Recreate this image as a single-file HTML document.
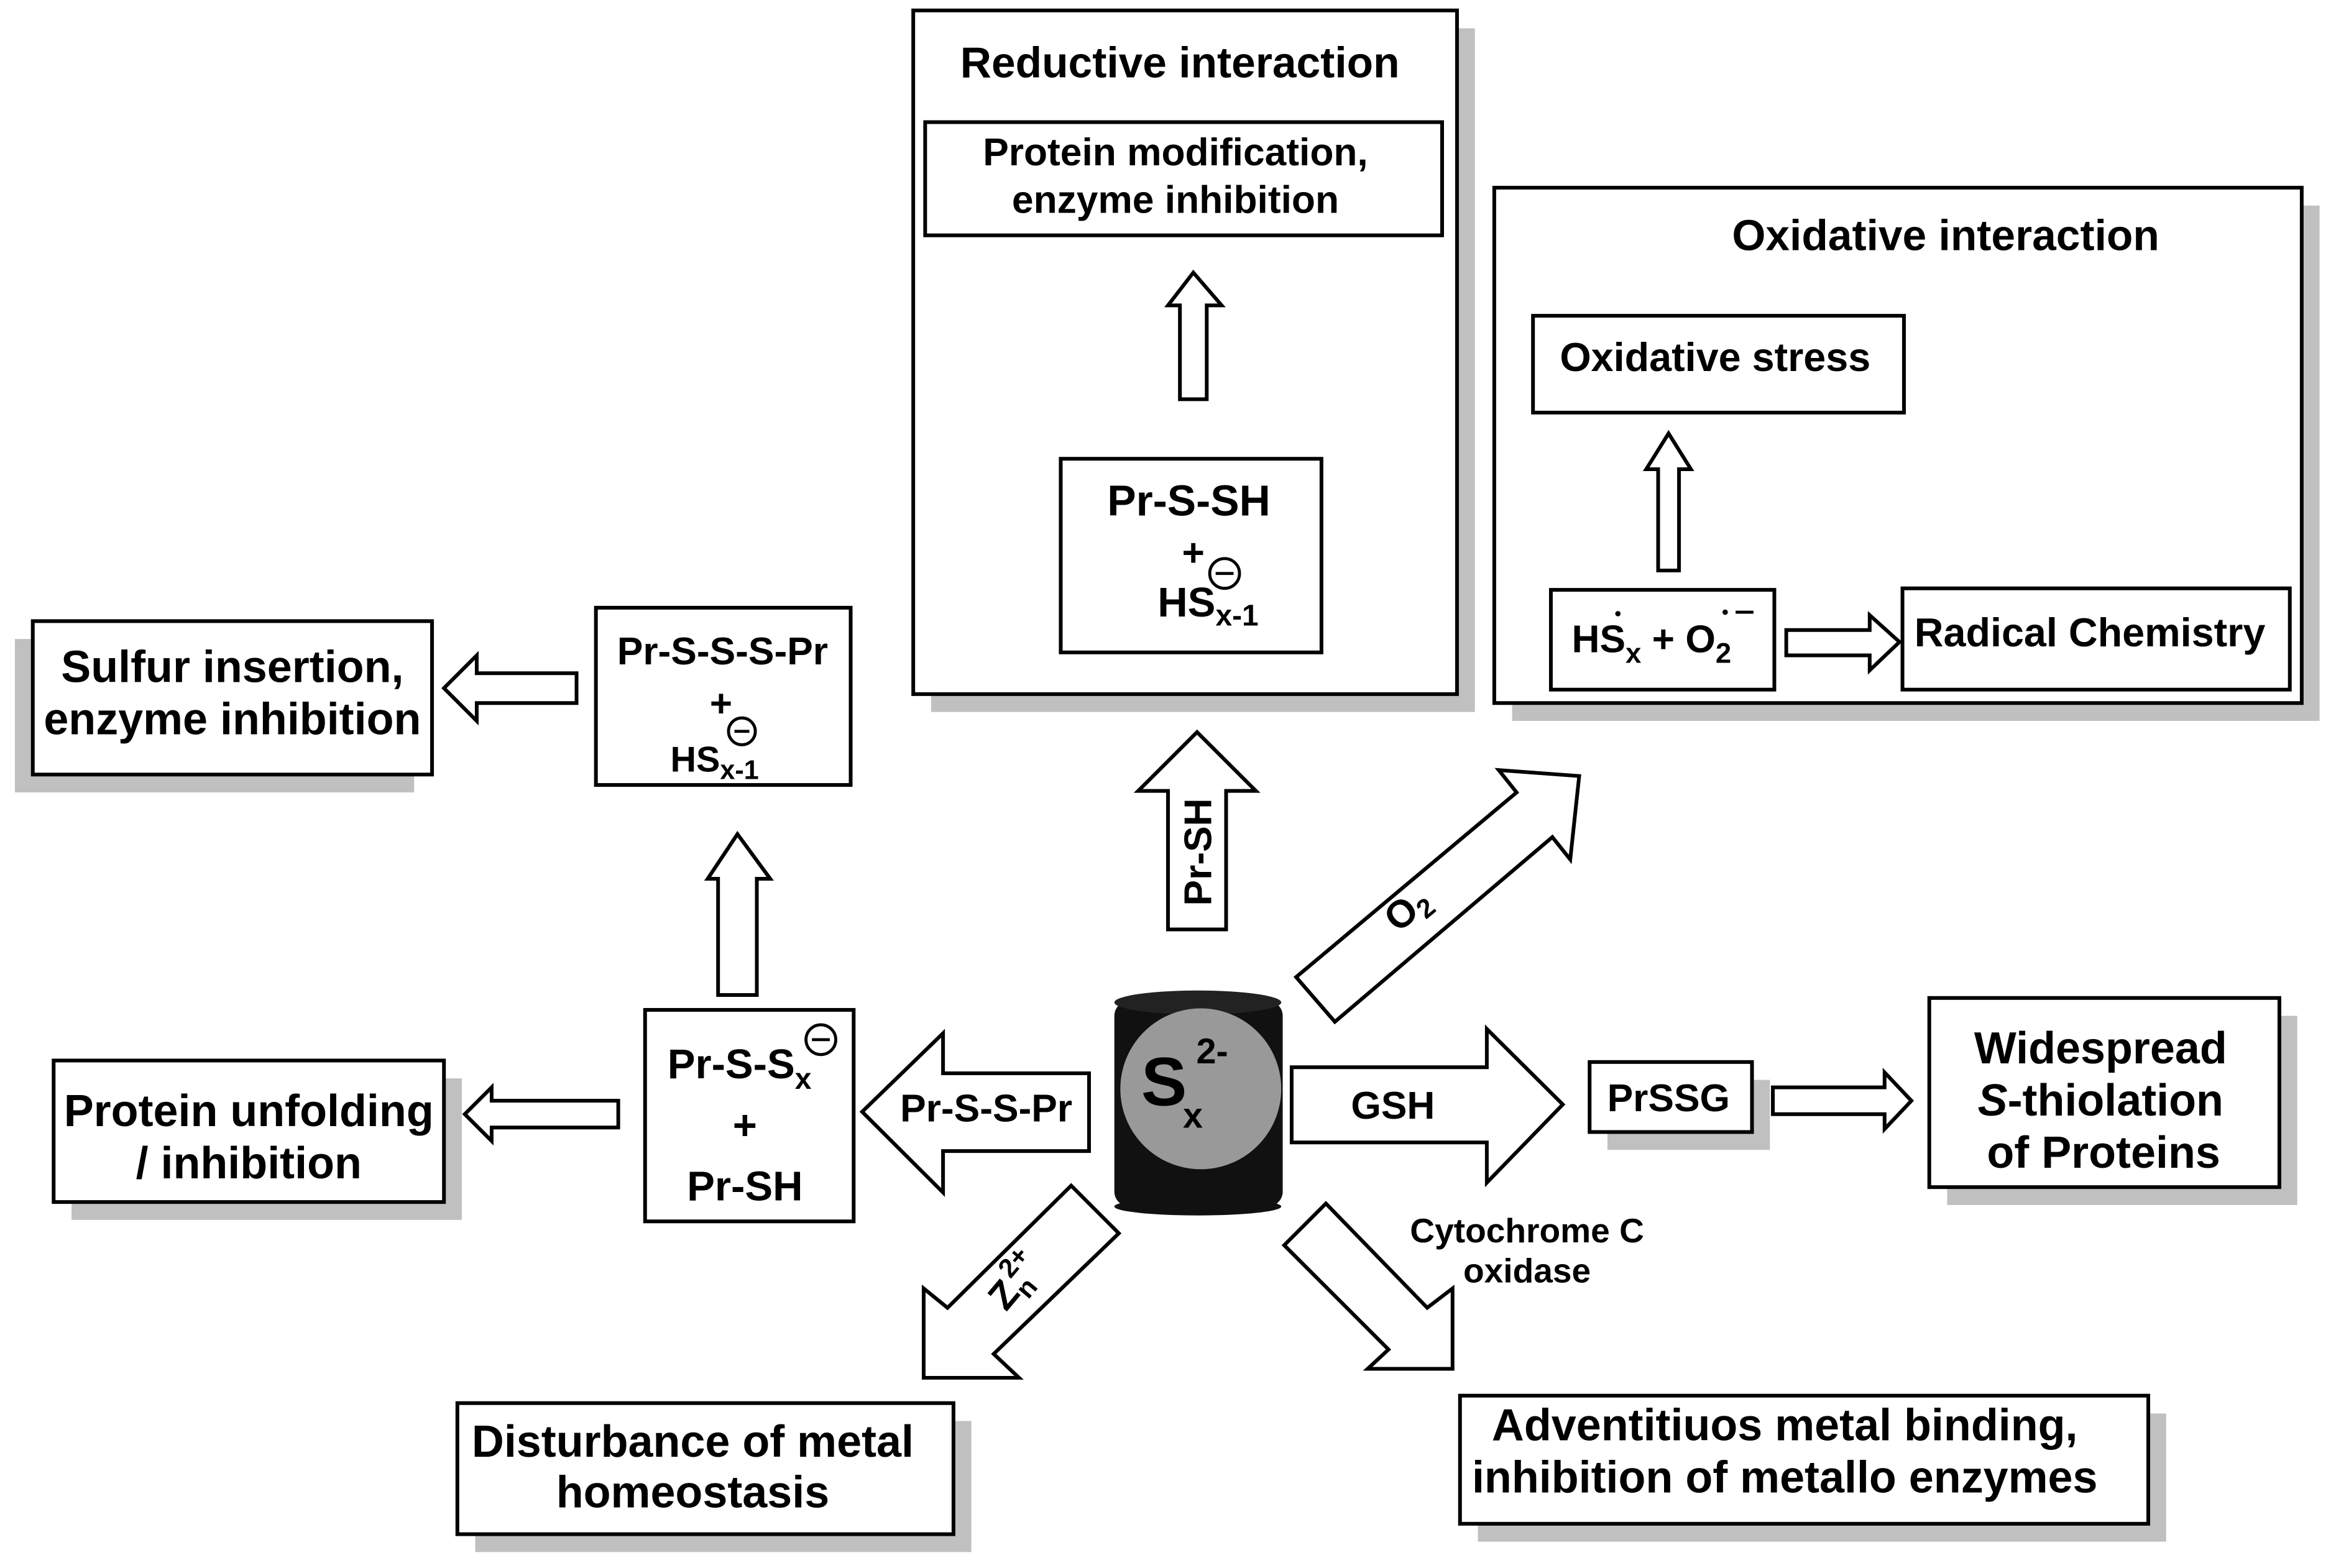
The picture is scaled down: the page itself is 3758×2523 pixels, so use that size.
<!DOCTYPE html>
<html><head><meta charset="utf-8"><style>
html,body{margin:0;padding:0;background:#fff;}
svg{display:block;}
text{font-family:"Liberation Sans",Arial,sans-serif;font-weight:bold;fill:#000;}
</style></head><body>
<svg width="3758" height="2523" viewBox="0 0 1568 1052.7" xmlns="http://www.w3.org/2000/svg">
<rect width="1568" height="1053" fill="#fff"/>
<g fill="#c0c0c0">
<rect x="625" y="19" width="365" height="459"/>
<rect x="1015" y="138" width="542" height="346"/>
<rect x="10" y="429" width="268" height="103"/>
<rect x="48" y="724" width="262" height="95"/>
<rect x="1079" y="725" width="109" height="47"/>
<rect x="1307" y="682" width="235" height="127"/>
<rect x="319" y="954" width="333" height="88"/>
<rect x="992" y="949" width="462" height="86"/>
</g>
<g fill="#fff" stroke="#000" stroke-width="2.5">
<rect x="613" y="7" width="365" height="459"/>
<rect x="621" y="82" width="347" height="76"/>
<rect x="712" y="308" width="175" height="130"/>
<rect x="1003" y="126" width="542" height="346"/>
<rect x="1029" y="212" width="249" height="65"/>
<rect x="1041" y="396" width="150" height="67"/>
<rect x="1277" y="395" width="260" height="68"/>
<rect x="22" y="417" width="268" height="103"/>
<rect x="400" y="408" width="171" height="119"/>
<rect x="36" y="712" width="262" height="95"/>
<rect x="433" y="678" width="140" height="142"/>
<rect x="1067" y="713" width="109" height="47"/>
<rect x="1295" y="670" width="235" height="127"/>
<rect x="307" y="942" width="333" height="88"/>
<rect x="980" y="937" width="462" height="86"/>
<polygon points="792,268 810,268 810,205 820,205 801,183 784,205 792,205"/>
<polygon points="1113,383 1127,383 1127,315 1135,315 1120,291 1105,315 1113,315"/>
<polygon points="1199,423 1255,423 1255,413 1275,431 1255,450 1255,440 1199,440"/>
<polygon points="387,452 320,452 320,440 298,462 320,484 320,472 387,472"/>
<polygon points="482,668 508,668 508,590 517,590 495,560 475,590 482,590"/>
<polygon points="415,739 330,739 330,730 312,748 330,766 330,757 415,757"/>
<polygon points="1190,730 1265,730 1265,720 1283,739 1265,758 1265,748 1190,748"/>
<polygon points="784,624 823,624 823,531 843,531 803.5,491.5 764,531 784,531"/>
<polygon points="731,720.6 633,720.6 633,693.7 578.7,746.4 633,800.6 633,772.8 731,772.8"/>
<polygon points="867,716.5 998,716.5 998,690.8 1049,741.5 998,794 998,767 867,767"/>
<polygon points="870,656 1018,532 1006,517 1060,521 1054,577 1042,562 896,686"/>
<polygon points="719,796 751,828 667,909 684,925 620,925 620,865 636,878"/>
<polygon points="890,808 862,836 932,906 918,919 975,919 975,865 958,878"/>
</g>
<rect x="748" y="672" width="113" height="138" rx="10" fill="#111"/>
<ellipse cx="804" cy="673" rx="56" ry="8" fill="#222"/>
<ellipse cx="804" cy="810" rx="56" ry="6" fill="#111"/>
<circle cx="806" cy="731" r="54" fill="#999"/>
<text x="766" y="742" font-size="46" fill="#222">S</text>
<text x="794" y="757" font-size="24" fill="#222">x</text>
<text x="803" y="714" font-size="24" fill="#222">2-</text>

<g font-size="29" text-anchor="middle">
<text x="792" y="52">Reductive interaction</text>
<text x="1306" y="168">Oxidative interaction</text>
</g>
<g font-size="26" text-anchor="middle">
<text x="789" y="111">Protein modification,</text>
<text x="789" y="143">enzyme inhibition</text>
<text x="798" y="346" font-size="29">Pr-S-SH</text>
<text x="801" y="380">+</text>
<text x="485" y="446" font-size="26">Pr-S-S-S-Pr</text>
<text x="484" y="481">+</text>
<text x="1410" y="714" font-size="30">Widespread</text>
<text x="1410" y="749" font-size="30"><tspan font-style="italic">S</tspan>-thiolation</text>
<text x="1412" y="784" font-size="30">of Proteins</text>
<text x="156" y="458" font-size="30">Sulfur insertion,</text>
<text x="156" y="493" font-size="30">enzyme inhibition</text>
<text x="167" y="756" font-size="30">Protein unfolding</text>
<text x="167" y="791" font-size="30">/ inhibition</text>
<text x="465" y="978" font-size="30">Disturbance of metal</text>
<text x="465" y="1012" font-size="30">homeostasis</text>
<text x="1198" y="967" font-size="30">Adventitiuos metal binding,</text>
<text x="1198" y="1002" font-size="30">inhibition of metallo enzymes</text>
<text x="500" y="765" font-size="28">+</text>
<text x="500" y="806" font-size="28">Pr-SH</text>
<text x="662" y="753" font-size="26">Pr-S-S-Pr</text>
<text x="935" y="751" font-size="26">GSH</text>
<text x="1120" y="746" font-size="26">PrSSG</text>
<text x="1025" y="834" font-size="23">Cytochrome C</text>
<text x="1025" y="861" font-size="23">oxidase</text>
</g>
<text x="1047" y="249" font-size="27">Oxidative stress</text>
<text x="1285" y="434" font-size="27">Radical Chemistry</text>
<text x="1055" y="438" font-size="26">HS<tspan font-size="19" dy="7">x</tspan><tspan dy="-7"> + O</tspan><tspan font-size="19" dy="7">2</tspan></text>
<circle cx="1086" cy="412" r="1.8"/><circle cx="1158" cy="411" r="1.8"/>
<line x1="1165" y1="411" x2="1177" y2="411" stroke="#000" stroke-width="2"/>
<text x="777" y="414" font-size="28">HS<tspan font-size="20" dy="6">x-1</tspan></text>
<circle cx="822" cy="385" r="10" fill="none" stroke="#000" stroke-width="2"/><line x1="816" y1="385" x2="828" y2="385" stroke="#000" stroke-width="2"/>
<text x="450" y="518" font-size="24">HS<tspan font-size="18" dy="5">x-1</tspan></text>
<circle cx="498" cy="491" r="9" fill="none" stroke="#000" stroke-width="2"/><line x1="493" y1="491" x2="503" y2="491" stroke="#000" stroke-width="2"/>
<text x="448" y="724" font-size="28">Pr-S-S<tspan font-size="20" dy="7">x</tspan></text>
<circle cx="551" cy="698" r="10" fill="none" stroke="#000" stroke-width="2"/><line x1="545" y1="698" x2="557" y2="698" stroke="#000" stroke-width="2"/>
<text transform="translate(813,572) rotate(-90)" font-size="26" text-anchor="middle">Pr-SH</text>
<text transform="translate(950,617) rotate(-40)" font-size="26" text-anchor="middle">O<tspan font-size="18" dy="5">2</tspan></text>
<text transform="translate(688,866) rotate(-50)" font-size="26" text-anchor="middle">Z<tspan font-size="18" dy="6">n</tspan><tspan font-size="18" dy="-18" dx="-8">2+</tspan></text>
</svg>
</body></html>
